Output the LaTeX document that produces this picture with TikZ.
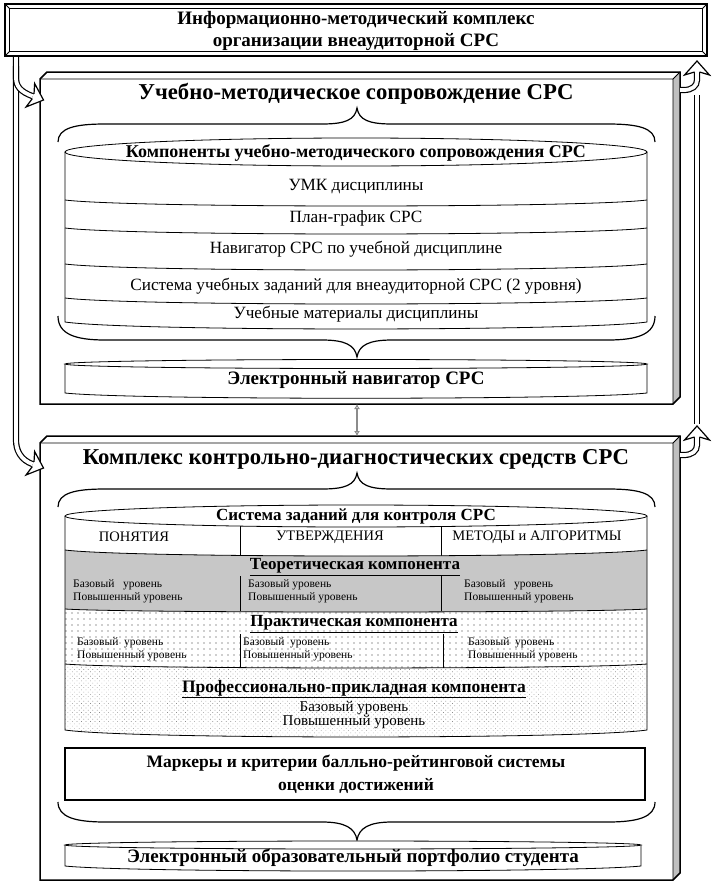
\documentclass[tikz,border=0pt]{standalone}
\usepackage{fontspec}
\setmainfont{Liberation Serif}
\usetikzlibrary{patterns.meta,arrows.meta}
\newcommand\myfs[2]{\fontsize{#1}{#2}\selectfont}
\tikzset{
  hhead/.pic={
    \fill[white] (-11,-2.5) -- (-14,-12.5) -- (0,0) -- (-14,12.5) -- (-11,2.5) -- cycle;
    \draw[line width=1.2pt,line join=miter,miter limit=20] (-11,-2.5) -- (-14,-12.5) -- (0,0) -- (-14,12.5) -- (-11,2.5);
  }
}
\begin{document}
\begin{tikzpicture}[x=1pt,y=-1pt,
  frame/.style={line width=1.5pt,line join=miter},
  thinl/.style={line width=0.8pt},
  hollow/.style={draw=black,line width=1.2pt,double=white,double distance=3.8pt},
  ttl/.style={inner sep=0pt,font=\bfseries\myfs{22.7}{26}},
  bandtxt/.style={inner sep=0pt,font=\myfs{17.2}{20}},
  bhead/.style={inner sep=0pt,font=\bfseries\myfs{17.5}{23},align=center},
  lvl/.style={inner sep=0pt,anchor=west,align=left,font=\myfs{11.5}{13}},
  hdr/.style={inner sep=0pt,font=\myfs{14.5}{17}},
  dotsA/.style={pattern={Dots[distance=6pt,radius=0.55pt]},pattern color=black!80},
  dotsB/.style={pattern={Dots[distance=3.2pt,radius=0.45pt,angle=45]},pattern color=black!45},
]
\useasboundingbox (0,0) rectangle (713,889);
\fill[white] (0,0) rectangle (713,889);

% ---------- top box ----------
\draw[line width=2.5pt,fill=white] (5,4) rectangle (707,56);
\draw[line width=0.8pt] (9.5,8.5) rectangle (702.5,51.5);
\draw[line width=0.8pt] (5,4)--(9.5,8.5) (707,4)--(702.5,8.5) (5,56)--(9.5,51.5) (707,56)--(702.5,51.5);
\node[font=\bfseries\myfs{19}{22},align=center,inner sep=0pt] (top) at (356,31)
  {Информационно-методический комплекс\\организации внеаудиторной СРС};

% ---------- upper box ----------
\fill[white] (40,79)--(47,72)--(680,72)--(680,397)--(673,404)--(40,404)--cycle;
\fill[black!25] (673,79)--(680,72)--(680,397)--(673,404)--cycle;
\draw[frame] (40,79)--(47,72)--(680,72)--(680,397)--(673,404)--(40,404)--cycle;
\draw[thinl] (40,79)--(673,79)--(673,404) (673,79)--(680,72);
\coordinate (ubot) at (357,404);
\node[ttl] (utitle) at (356,94) {Учебно-методическое сопровождение СРС};

% brace above cylinder 1
\draw[line width=1.2pt] (58,142) .. controls (58,128) and (75,124) .. (105,124) -- (322,124)
  .. controls (345,124) and (355,120) .. (357,108) .. controls (359,120) and (369,124) .. (392,124)
  -- (608,124) .. controls (638,124) and (655,128) .. (655,142);

% cylinder 1
\fill[white] (65,152) -- (65,322) .. controls (130,331.3) and (582,331.3) .. (647,322) -- (647,152) -- cycle;
\draw[thinl] (65,152) -- (65,322) .. controls (130,331.3) and (582,331.3) .. (647,322) -- (647,152);
\draw[thinl] (65,200) .. controls (130,208) and (582,208) .. (647,200);
\draw[thinl] (65,228) .. controls (130,236) and (582,236) .. (647,228);
\draw[thinl] (65,264) .. controls (130,272) and (582,272) .. (647,264);
\draw[thinl] (65,298) .. controls (130,306) and (582,306) .. (647,298);
\draw[thinl,fill=white] (356,152) ellipse [x radius=291, y radius=14];
\node[inner sep=0pt,font=\bfseries\myfs{18}{20}] (comp) at (356,153) {Компоненты учебно-методического сопровождения СРС};
\node[bandtxt] (umk) at (356,187) {УМК дисциплины};
\node[bandtxt] (plan) at (356,218) {План-график СРС};
\node[bandtxt] (nav) at (356,249) {Навигатор СРС по учебной дисциплине};
\node[bandtxt] (sys) at (356,286) {Система учебных заданий для внеаудиторной СРС (2 уровня)};
\node[bandtxt] (mat) at (356,314) {Учебные материалы дисциплины};

% brace below cylinder 1
\draw[line width=1.2pt] (58,316) .. controls (58,334) and (75,340) .. (105,340) -- (322,340)
  .. controls (345,340) and (355,345) .. (357,357) .. controls (359,345) and (369,340) .. (392,340)
  -- (608,340) .. controls (638,340) and (655,334) .. (655,316);

% electronic navigator
\draw[thinl,fill=white] (65,364) -- (65,393) .. controls (130,400) and (582,400) .. (647,393) -- (647,364);
\draw[thinl,fill=white] (356,364) ellipse [x radius=291, y radius=4.5];
\node[inner sep=0pt,font=\bfseries\myfs{19}{20}] (enav) at (356,380) {Электронный навигатор СРС};

% ---------- lower box ----------
\fill[white] (40,443)--(47,436)--(680,436)--(680,873)--(673,880)--(40,880)--cycle;
\fill[black!25] (673,443)--(680,436)--(680,873)--(673,880)--cycle;
\draw[frame] (40,443)--(47,436)--(680,436)--(680,873)--(673,880)--(40,880)--cycle;
\draw[thinl] (40,443)--(673,443)--(673,880) (673,443)--(680,436);
\coordinate (ltop) at (357,436);
\node[ttl] (ltitle) at (356,459) {Комплекс контрольно-диагностических средств СРС};

% brace above cylinder 2
\draw[line width=1.2pt] (58,507) .. controls (58,493) and (75,489) .. (105,489) -- (322,489)
  .. controls (345,489) and (355,485) .. (357,473) .. controls (359,485) and (369,489) .. (392,489)
  -- (608,489) .. controls (638,489) and (655,493) .. (655,507);

% cylinder 2
\fill[white] (65,516) -- (65,730) .. controls (130,739.3) and (582,739.3) .. (647,730) -- (647,516) -- cycle;
\draw[thinl] (240,526) -- (240,558) (441,526) -- (441,558);
\fill[black!22] (65,550) .. controls (130,558) and (582,558) .. (647,550) -- (647,609)
  .. controls (582,613) and (130,613) .. (65,609) -- cycle;
\fill[dotsA] (65,609) .. controls (130,613) and (582,613) .. (647,609) -- (647,664)
  .. controls (582,669.3) and (130,669.3) .. (65,664) -- cycle;
\fill[dotsB] (65,664) .. controls (130,669.3) and (582,669.3) .. (647,664) -- (647,730)
  .. controls (582,739.3) and (130,739.3) .. (65,730) -- cycle;
\draw[thinl] (65,550) .. controls (130,558) and (582,558) .. (647,550);
\draw[thinl] (65,609) .. controls (130,613) and (582,613) .. (647,609);
\draw[thinl] (65,664) .. controls (130,669.3) and (582,669.3) .. (647,664);
\draw[thinl] (65,516) -- (65,730) .. controls (130,739.3) and (582,739.3) .. (647,730) -- (647,516);
\draw[thinl] (240,576) -- (240,611) (441,576) -- (441,611);
\draw[thinl] (240,634) -- (240,668) (443,634) -- (443,668);
\draw[thinl,fill=white] (356,516) ellipse [x radius=291, y radius=11];

\node[inner sep=0pt,font=\bfseries\myfs{17}{20}] (ctl) at (356,516) {Система заданий для контроля СРС};
\node[hdr] (h1) at (134,537) {ПОНЯТИЯ};
\node[hdr] (h2) at (330,537) {УТВЕРЖДЕНИЯ};
\node[hdr] (h3) at (537,537) {МЕТОДЫ и АЛГОРИТМЫ};

\node[inner sep=0pt,font=\bfseries\myfs{17}{20}] (teor) at (355,567) {\underline{Теоретическая компонента}};
\node[lvl] (t1) at (73,591) {Базовый\ \ \ уровень\\Повышенный уровень};
\node[lvl] (t2) at (248,591) {Базовый уровень\\Повышенный уровень};
\node[lvl] (t3) at (464,591) {Базовый\ \ \ уровень\\Повышенный уровень};

\node[inner sep=0pt,font=\bfseries\myfs{17}{20}] (prak) at (354,624) {\underline{Практическая компонента}};
\node[lvl] (p1) at (77,649) {Базовый\ \ уровень\\Повышенный уровень};
\node[lvl] (p2) at (243,649) {Базовый\ \ уровень\\Повышенный уровень};
\node[lvl] (p3) at (468,649) {Базовый\ \ уровень\\Повышенный уровень};

\node[inner sep=0pt,font=\bfseries\myfs{17.5}{20}] (prof) at (354,689) {\underline{Профессионально-прикладная компонента}};
\node[inner sep=0pt,align=center,font=\myfs{15}{13.5}] (proflv) at (354,715) {Базовый уровень\\Повышенный уровень};

% markers box
\draw[frame,fill=white] (65,748) rectangle (645,800);
\node[bhead] (mark) at (356,774) {Маркеры и критерии балльно-рейтинговой системы\\оценки достижений};

% brace below markers
\draw[line width=1.2pt] (58,802) .. controls (58,817) and (75,822) .. (105,822) -- (322,822)
  .. controls (345,822) and (355,828) .. (357,840) .. controls (359,828) and (369,822) .. (392,822)
  -- (608,822) .. controls (638,822) and (655,817) .. (655,802);

% portfolio
\draw[thinl,fill=white] (65,845) -- (65,866) .. controls (130,872.7) and (576,872.7) .. (641,866) -- (641,845);
\draw[thinl,fill=white] (353,845) ellipse [x radius=288, y radius=4];
\node[inner sep=0pt,font=\bfseries\myfs{19}{20}] (port) at (353,858) {Электронный образовательный портфолио студента};

% ---------- connectors ----------
\draw[line width=2.2pt,draw=black!45,{Latex[open,length=5pt,width=6pt]}-{Latex[open,length=5pt,width=6pt]}] (ubot) -- (ltop);

% left hollow arrows
\coordinate (lstart) at (16,57);
\draw[hollow] (lstart) -- (16,440) .. controls (16,450) and (20.4,459.8) .. (32.7,464.2);
\draw[hollow] (16,66) -- (16,78) .. controls (16,86) and (20.4,91.8) .. (32.7,96.2);
\pic[rotate=-20] at (43.5,100) {hhead};
\pic[rotate=-20] at (43.5,468) {hhead};

% right hollow arrows
\draw[hollow] (697,424) -- (697,95);
\draw[hollow] (680,90) -- (684,90) .. controls (692,90) and (697,86) .. (697,80) -- (697,71.5);
\draw[hollow] (680,455) -- (684,455) .. controls (692,455) and (697,451) .. (697,445) -- (697,436.5);
\pic[rotate=90] at (697,61) {hhead};
\pic[rotate=90] at (697,426) {hhead};
\end{tikzpicture}
\end{document}
